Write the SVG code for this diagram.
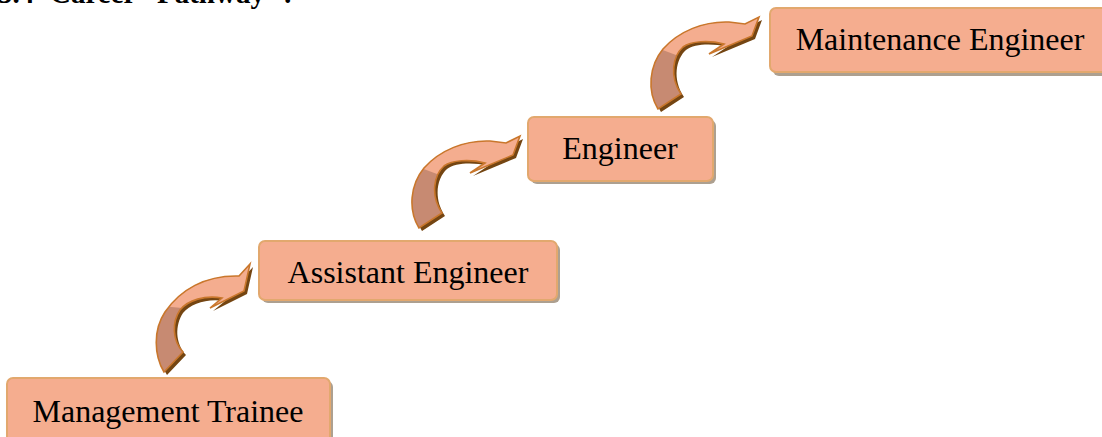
<svg xmlns="http://www.w3.org/2000/svg" xmlns:xlink="http://www.w3.org/1999/xlink" width="1102" height="437" viewBox="0 0 1102 437">
<style>
.box{fill:#F5AD8F;stroke:#E2A86E;stroke-width:2}
.bshadow{fill:#ADA090}
.lbl{font-family:"Liberation Serif","Times New Roman",serif;font-size:32px;fill:#000}
.title{font-family:"Liberation Serif","Times New Roman",serif;font-size:29px;font-weight:bold;fill:#000}
.ashadow{fill:#744512}
.adark{fill:#C78A72}
.alight{fill:#F4AD8F}
.aline{fill:none;stroke:#C9772C;stroke-width:1.6;stroke-linejoin:miter}
</style>
<defs>
<path id="shA" d="M164,372 C154,355 153,330 165,312 C180,290 205,275 239,276 L250,264 L244,291 L210,308 L222,298 C205,295 188,300 180,310 C172,322 172,340 183,352 Z"/>
<path id="shB" d="M419,228 C408,210 410,185 424,168 C440,150 465,140 490,141 L506,143 L520,136 L513,155 L470,173 L485,163 C470,159 452,160 444,166 C434,175 430,195 442,213 Z"/>
<clipPath id="clipA" clipPathUnits="userSpaceOnUse"><use xlink:href="#shA"/></clipPath>
<clipPath id="clipB" clipPathUnits="userSpaceOnUse"><use xlink:href="#shB"/></clipPath>
</defs>
<rect width="1102" height="437" fill="#fff"/>
<text class="title" y="3"><tspan x="-2">5.4</tspan><tspan x="50">Career</tspan><tspan x="157">Pathway</tspan><tspan x="283">:</tspan></text>

<g id="connectors">
 <g id="arrow1">
  <use xlink:href="#shA" class="ashadow" transform="translate(3,3)"/>
  <use xlink:href="#shA" class="adark"/>
  <path class="alight" clip-path="url(#clipA)" d="M140,304 L182,308 L270,335 L270,250 L140,250 Z"/>
  <use xlink:href="#shA" class="aline"/>
 </g>
 <g id="arrow2">
  <use xlink:href="#shB" class="ashadow" transform="translate(3,3)"/>
  <use xlink:href="#shB" class="adark"/>
  <path class="alight" clip-path="url(#clipB)" d="M400,160 L437,174 L540,200 L540,120 L400,120 Z"/>
  <use xlink:href="#shB" class="aline"/>
 </g>
 <g id="arrow3" transform="translate(239,-119)">
  <use xlink:href="#shB" class="ashadow" transform="translate(3,3)"/>
  <use xlink:href="#shB" class="adark"/>
  <path class="alight" clip-path="url(#clipB)" d="M400,160 L437,174 L540,200 L540,120 L400,120 Z"/>
  <use xlink:href="#shB" class="aline"/>
 </g>
</g>

<g id="node-management-trainee">
 <rect class="bshadow" x="10" y="381" width="323" height="70" rx="6"/>
 <rect class="box" x="7" y="378" width="323" height="70" rx="6"/>
 <text class="lbl" x="168" y="422" text-anchor="middle">Management Trainee</text>
</g>
<g id="node-assistant-engineer">
 <rect class="bshadow" x="262" y="244" width="298" height="59" rx="6"/>
 <rect class="box" x="259" y="241" width="298" height="59" rx="6"/>
 <text class="lbl" x="408" y="283" text-anchor="middle">Assistant Engineer</text>
</g>
<g id="node-engineer">
 <rect class="bshadow" x="531" y="120" width="185" height="64" rx="6"/>
 <rect class="box" x="528" y="117" width="185" height="64" rx="6"/>
 <text class="lbl" x="620" y="159" text-anchor="middle">Engineer</text>
</g>
<g id="node-maintenance-engineer">
 <rect class="bshadow" x="773" y="11" width="340" height="65" rx="6"/>
 <rect class="box" x="770" y="8" width="340" height="64" rx="6"/>
 <text class="lbl" x="940" y="50" text-anchor="middle">Maintenance Engineer</text>
</g>
</svg>
